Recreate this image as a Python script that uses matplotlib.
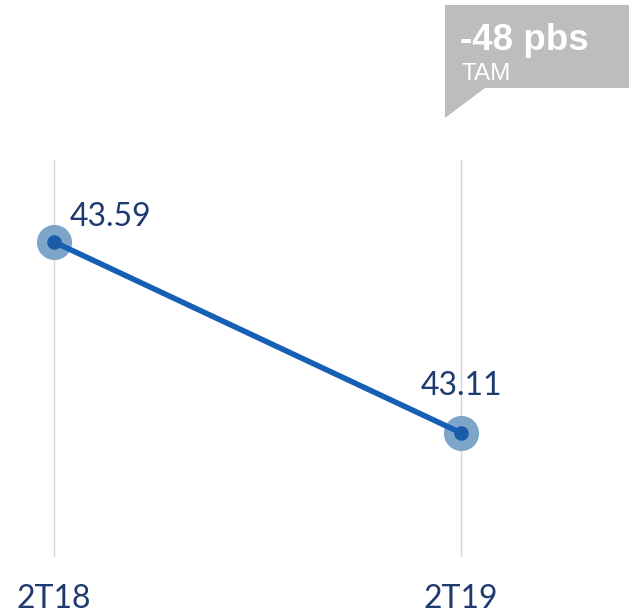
import matplotlib
matplotlib.use("Agg")
import matplotlib.pyplot as plt
from matplotlib.patches import Polygon

periods = ["2T18", "2T19"]
values = [43.59, 43.11]
callout_value = "-48 pbs"
callout_label = "TAM"

W, H = 629, 614
fig = plt.figure(figsize=(W / 100, H / 100), dpi=100)

# axes spans full width; vertical extent matches the grid lines
top_px, bot_px = 160, 557
ax = fig.add_axes([0, 1 - bot_px / H, 1, (bot_px - top_px) / H])
x = list(range(len(periods)))
ax.set_xlim(-54 / 407, 575 / 407)
ax.set_ylim(42.798, 43.796)
ax.axis("off")

navy = "#1f3a70"
for xi in x:
    ax.axvline(xi, color="#d5d5d5", lw=1, zorder=0)

ax.plot(x, values, color="#1560b5", lw=4, zorder=2, solid_capstyle="round")
ax.scatter(x, values, s=640, color="#7da5c9", zorder=1, linewidths=0)
ax.scatter(x, values, s=110, color="#1a5ca8", zorder=3, linewidths=0)

font = ["Lato", "DejaVu Sans"]
offsets = [(11.5, 11.5), (-29, 27)]
for xi, v, off in zip(x, values, offsets):
    ax.annotate(f"{v:.2f}", (xi, v), xytext=off, textcoords="offset points",
                fontsize=23, color=navy, family=font,
                ha="left", va="baseline")

for xi, lab in zip(x, periods):
    ax.annotate(lab, (xi, 0), xycoords=("data", "axes fraction"),
                xytext=(0, -36.5), textcoords="offset points",
                fontsize=23, color=navy, family=font,
                ha="center", va="baseline")

# callout box
def fp(px, py):
    return (px / W, 1 - py / H)

box = Polygon([fp(445, 5), fp(629, 5), fp(629, 88), fp(485, 88),
               fp(445, 118), fp(445, 5)], closed=True,
              transform=fig.transFigure, facecolor="#bdbdbd", edgecolor="none")
fig.patches.append(box)
fig.text(460 / W, 1 - 50 / H, callout_value, color="white", fontsize=26.5,
         fontweight="bold", family=["Liberation Sans", "DejaVu Sans"],
         ha="left", va="baseline")
fig.text(461 / W, 1 - 80 / H, callout_label, color="white", fontsize=17.5,
         family=["Liberation Sans", "DejaVu Sans"], ha="left", va="baseline")

fig.savefig("out.png", dpi=100)
